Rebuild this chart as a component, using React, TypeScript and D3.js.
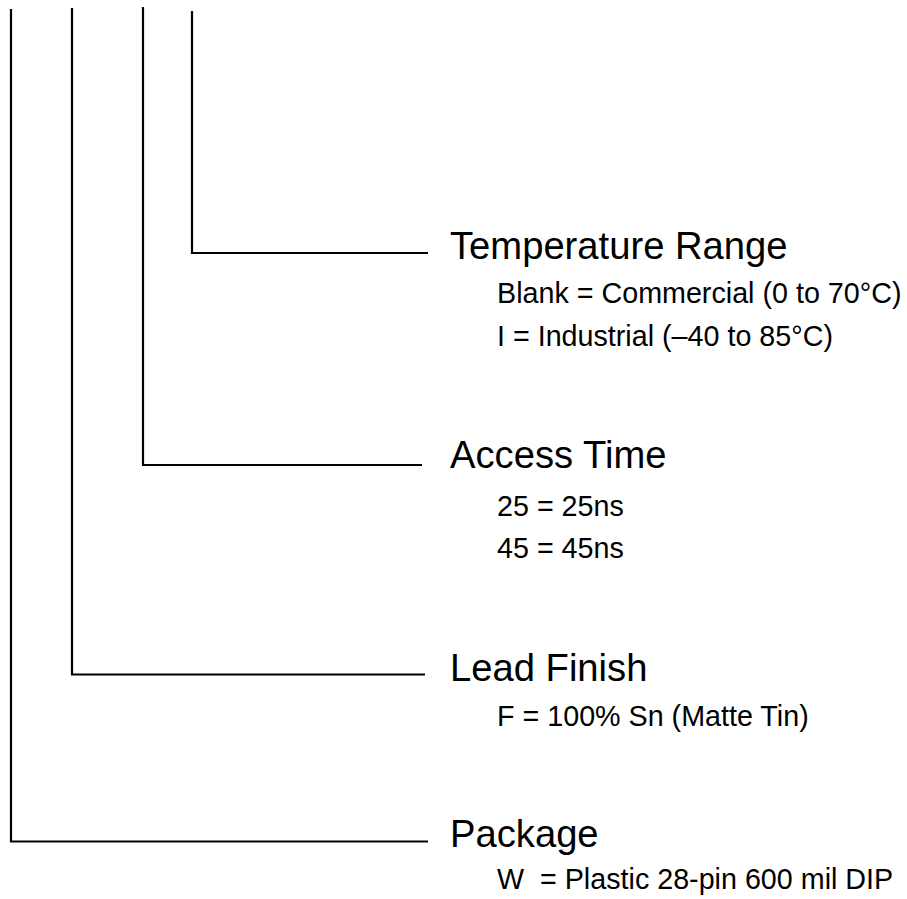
import React from "react";
import * as d3 from "d3";

const categories = ["Temperature Range", "Access Time", "Lead Finish", "Package"];
const options: string[][] = [
  ["Blank = Commercial (0 to 70°C)", "I = Industrial (–40 to 85°C)"],
  ["25 = 25ns", "45 = 45ns"],
  ["F = 100% Sn (Matte Tin)"],
  ["W  = Plastic 28-pin 600 mil DIP"],
];

// layout (not data)
const W = 907;
const H = 899;
const stemX = [192, 143, 72, 11];
const stemTop = [11, 7, 8, 9];
const branchY = [253, 465, 674.5, 841.5];
const branchEnd = [428, 422, 425, 428];
const titleBase = [259, 468, 681, 847];
const optBase: number[][] = [
  [303, 346],
  [516, 558],
  [726],
  [889],
];

export default function App() {
  const line = d3.line<[number, number]>();
  return (
    <svg
      width={W}
      height={H}
      style={{ position: "absolute", left: 0, top: 0, background: "#fff", fontFamily: "Liberation Sans" }}
    >
      <rect width={W} height={H} fill="#fff" />
      {categories.map((c, i) => (
        <g key={c}>
          <path
            d={
              line([
                [stemX[i], stemTop[i]],
                [stemX[i], branchY[i]],
                [branchEnd[i], branchY[i]],
              ]) || ""
            }
            fill="none"
            stroke="#000"
            strokeWidth={2.2}
          />
          <text x={450} y={titleBase[i]} fontSize={38.2} fill="#000" fontFamily="Liberation Sans">
            {c}
          </text>
          {options[i].map((o, j) => (
            <text key={o} x={497} y={optBase[i][j]} fontSize={28.7} fill="#000" fontFamily="Liberation Sans" style={{ whiteSpace: "pre" }}>
              {o}
            </text>
          ))}
        </g>
      ))}
    </svg>
  );
}
